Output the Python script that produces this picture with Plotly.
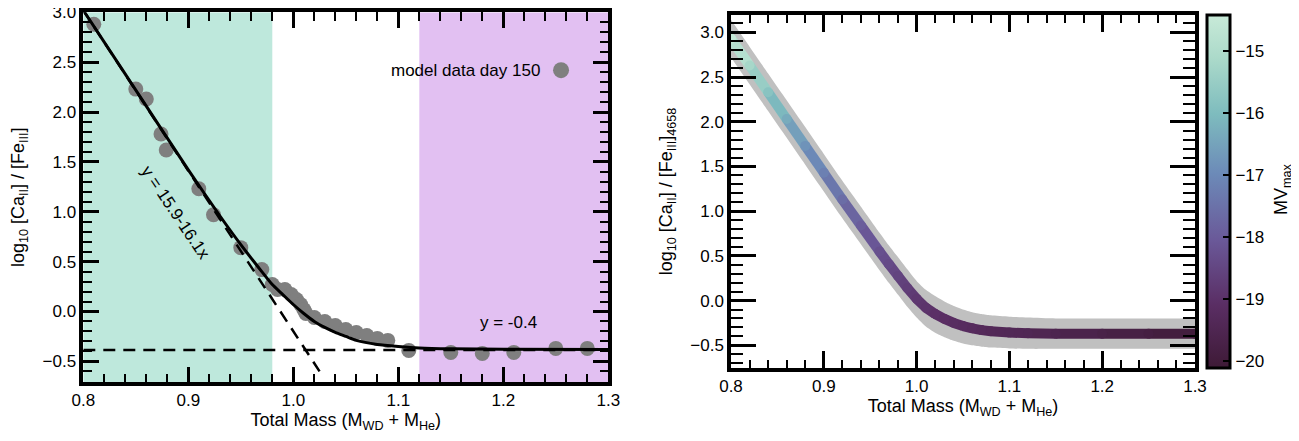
import plotly.graph_objects as go

# ---------------- data ----------------
# left panel: model points
mass_pts = [0.81, 0.85, 0.86, 0.874, 0.879, 0.91, 0.924, 0.95, 0.97, 0.98, 0.985, 0.992,
            0.998, 1.003, 1.007, 1.01, 1.012, 1.02, 1.03, 1.04, 1.05, 1.06, 1.07, 1.08,
            1.09, 1.11, 1.15, 1.18, 1.21, 1.25, 1.28]
ratio_pts = [2.88, 2.23, 2.13, 1.78, 1.62, 1.23, 0.97, 0.64, 0.42, 0.27, 0.22, 0.22,
             0.17, 0.12, 0.07, 0.02, -0.02, -0.06, -0.10, -0.14, -0.18, -0.21, -0.24, -0.27,
             -0.29, -0.39, -0.41, -0.42, -0.41, -0.37, -0.37]

# left panel: smooth fit curve
fit_x = [0.80, 0.85, 0.90, 0.93, 0.95, 0.97, 0.98, 0.99, 1.00, 1.01, 1.02, 1.03, 1.04,
         1.05, 1.06, 1.08, 1.10, 1.12, 1.15, 1.20, 1.30]
fit_y = [3.02, 2.22, 1.42, 0.96, 0.67, 0.40, 0.27, 0.17, 0.07, -0.02, -0.10, -0.16, -0.21,
         -0.25, -0.29, -0.33, -0.35, -0.365, -0.374, -0.379, -0.38]

# left panel: asymptotes (y = 15.9-16.1x and y = -0.4)
steep_x = [0.80, 1.025]
steep_y = [3.02, -0.60]
flat_x = [0.80, 1.30]
flat_y = [-0.385, -0.385]

# left panel: shaded mass regions
region_green = [0.80, 0.98]
region_purple = [1.12, 1.30]

# left panel: legend key position
legend_key = [1.255, 2.42]

# right panel: relation with uncertainty band, coloured by MV_max
rel_x = [0.80, 0.82, 0.84, 0.86, 0.88, 0.90, 0.92, 0.94, 0.96, 0.97, 0.98, 0.99, 1.00,
         1.01, 1.02, 1.03, 1.04, 1.05, 1.06, 1.07, 1.08, 1.10, 1.12, 1.15, 1.20, 1.25, 1.30]
rel_y = [2.93, 2.63, 2.33, 2.03, 1.73, 1.43, 1.13, 0.84, 0.55, 0.41, 0.275, 0.14, 0.02,
         -0.08, -0.15, -0.205, -0.25, -0.285, -0.31, -0.33, -0.343, -0.358, -0.365, -0.37,
         -0.37, -0.37, -0.37]
rel_hi = [3.14, 2.84, 2.54, 2.24, 1.94, 1.64, 1.34, 1.05, 0.76, 0.62, 0.485, 0.35, 0.22,
          0.12, 0.05, -0.01, -0.06, -0.10, -0.13, -0.15, -0.165, -0.18, -0.19, -0.20,
          -0.20, -0.20, -0.20]
rel_lo = [2.72, 2.42, 2.12, 1.82, 1.52, 1.22, 0.92, 0.63, 0.34, 0.20, 0.065, -0.07, -0.19,
          -0.29, -0.36, -0.41, -0.45, -0.48, -0.50, -0.515, -0.525, -0.535, -0.54, -0.54,
          -0.54, -0.54, -0.54]
rel_mv = [-14.55, -15.2, -15.8, -16.35, -16.8, -17.2, -17.6, -17.95, -18.25, -18.4, -18.55,
          -18.7, -18.85, -18.95, -19.05, -19.1, -19.15, -19.2, -19.25, -19.3, -19.35, -19.4,
          -19.45, -19.55, -19.7, -19.85, -20.0]

# axis ranges
mass_range = [0.8, 1.3]
left_y_range = [-0.71, 3.0]
right_y_range = [-0.754, 3.194]
MV_MIN, MV_MAX = -20.11, -14.42

# ---------------- layout helpers ----------------
OFF = 8                      # page body margin of the html page
W, H = 1299 - OFF, 441 - OFF


def px_x(p):
    return (p - OFF) / W


def px_y(p):
    return 1 - (p - OFF) / H


FONT = "Arial"
TICK_SIZE = 17
colorscale = [
    [0.00, "rgb(62,26,54)"],
    [0.18, "rgb(90,46,100)"],
    [0.36, "rgb(106,88,152)"],
    [0.55, "rgb(108,138,184)"],
    [0.72, "rgb(126,188,190)"],
    [0.88, "rgb(172,218,202)"],
    [1.00, "rgb(200,234,216)"],
]


def rgb_parts(s):
    return [int(v) for v in s[4:-1].split(",")]


def color_at(v):
    t = (v - MV_MIN) / (MV_MAX - MV_MIN)
    t = max(0.0, min(1.0, t))
    for (p0, c0), (p1, c1) in zip(colorscale[:-1], colorscale[1:]):
        if p0 <= t <= p1:
            f = (t - p0) / (p1 - p0) if p1 > p0 else 0
            a, b = rgb_parts(c0), rgb_parts(c1)
            return "rgb(%d,%d,%d)" % tuple(round(a[i] + f * (b[i] - a[i])) for i in range(3))
    return colorscale[-1][1]


fig = go.Figure()

# ---------- left panel ----------
for reg, col in ((region_green, "#bee8dc"), (region_purple, "#e2c0f2")):
    fig.add_trace(go.Scatter(
        x=[reg[0], reg[0], reg[1], reg[1]],
        y=[left_y_range[0], left_y_range[1], left_y_range[1], left_y_range[0]],
        mode="lines", fill="toself", fillcolor=col, line=dict(width=0, color=col),
        xaxis="x", yaxis="y", showlegend=False))
fig.add_trace(go.Scatter(x=mass_pts, y=ratio_pts, mode="markers", xaxis="x", yaxis="y",
                         marker=dict(size=15, color="#7f7f7f", line=dict(width=0)),
                         showlegend=False))
fig.add_trace(go.Scatter(x=steep_x, y=steep_y, mode="lines", xaxis="x", yaxis="y",
                         line=dict(color="black", width=2.5, dash="12px,8px"),
                         showlegend=False))
fig.add_trace(go.Scatter(x=flat_x, y=flat_y, mode="lines", xaxis="x", yaxis="y",
                         line=dict(color="black", width=2.5, dash="12px,8px"),
                         showlegend=False))
fig.add_trace(go.Scatter(x=fit_x, y=fit_y, mode="lines", xaxis="x", yaxis="y",
                         line=dict(color="black", width=3, shape="spline", smoothing=0.6),
                         showlegend=False))
fig.add_trace(go.Scatter(x=[legend_key[0]], y=[legend_key[1]], mode="markers",
                         xaxis="x", yaxis="y",
                         marker=dict(size=16, color="#7f7f7f", line=dict(width=0)),
                         showlegend=False))

# ---------- right panel ----------
fig.add_trace(go.Scatter(x=rel_x, y=rel_lo, mode="lines", xaxis="x2", yaxis="y2",
                         line=dict(width=0, color="#c0c0c0", shape="spline", smoothing=0.6),
                         showlegend=False))
fig.add_trace(go.Scatter(x=rel_x, y=rel_hi, mode="lines", xaxis="x2", yaxis="y2",
                         fill="tonexty", fillcolor="#c0c0c0",
                         line=dict(width=0, color="#c0c0c0", shape="spline", smoothing=0.6),
                         showlegend=False))
for i in range(len(rel_x) - 1):
    fig.add_trace(go.Scatter(x=rel_x[i:i + 2], y=rel_y[i:i + 2], mode="lines",
                             xaxis="x2", yaxis="y2",
                             line=dict(width=10, color=color_at((rel_mv[i] + rel_mv[i + 1]) / 2)),
                             showlegend=False))
fig.add_trace(go.Scatter(
    x=rel_x, y=rel_y, mode="markers", xaxis="x2", yaxis="y2",
    marker=dict(size=10, color=rel_mv, colorscale=colorscale, cmin=MV_MIN, cmax=MV_MAX,
                line=dict(width=0), showscale=True,
                colorbar=dict(x=px_x(1207), xanchor="left", xpad=0, ypad=0,
                              y=(px_y(368) + px_y(15)) / 2, yanchor="middle",
                              len=(368 - 15) / H, lenmode="fraction",
                              thickness=23, outlinewidth=3, outlinecolor="black",
                              dtick=1, ticks="inside", ticklen=8, tickwidth=2,
                              tickcolor="black",
                              tickfont=dict(family=FONT, size=TICK_SIZE, color="black"))),
    showlegend=False))

xtitle = dict(text="Total Mass (M<sub>WD</sub> + M<sub>He</sub>)",
              font=dict(family=FONT, size=18, color="black"), standoff=4)


def ax(**kw):
    base = dict(showline=True, linecolor="black", linewidth=3.5, mirror="ticks",
                ticks="inside", tickcolor="black", tickwidth=2.5, automargin=False,
                gridcolor="rgba(0,0,0,0)", zeroline=False, tickformat=".1f",
                ticklabeloverflow="allow",
                tickfont=dict(family=FONT, size=TICK_SIZE, color="black"))
    base.update(kw)
    return base


fig.update_layout(
    width=W, height=H, margin=dict(l=0, r=0, t=0, b=0),
    plot_bgcolor="white",
    xaxis=ax(domain=[px_x(83.3), px_x(608.3)], range=mass_range, dtick=0.1, ticklen=16,
             minor=dict(ticks="inside", ticklen=9, tickwidth=2, tickcolor="black", dtick=0.02),
             title=xtitle, anchor="y"),
    yaxis=ax(domain=[px_y(382.3), px_y(12.3)], range=left_y_range, dtick=0.5, ticklen=16,
             minor=dict(ticks="inside", ticklen=9, tickwidth=2, tickcolor="black", dtick=0.1),
             title=dict(text="log<sub>10</sub> [Ca<sub>II</sub>] / [Fe<sub>III</sub>]",
                        font=dict(family=FONT, size=18, color="black"), standoff=16),
             anchor="x"),
    xaxis2=ax(domain=[px_x(731), px_x(1195)], range=mass_range, dtick=0.1, ticklen=17,
              minor=dict(ticks="inside", ticklen=8, tickwidth=2, tickcolor="black", dtick=0.02),
              title=xtitle, anchor="y2"),
    yaxis2=ax(domain=[px_y(368), px_y(15)], range=right_y_range, dtick=0.5, ticklen=25,
              minor=dict(ticks="inside", ticklen=12, tickwidth=2, tickcolor="black", dtick=0.1),
              title=dict(text="log<sub>10</sub> [Ca<sub>II</sub>] / [Fe<sub>III</sub>]<sub>4658</sub>",
                         font=dict(family=FONT, size=18, color="black"), standoff=14),
              anchor="x2"),
    annotations=[
        dict(text="model data day 150", xref="x", yref="y", x=1.237, y=2.42,
             xanchor="right", yanchor="middle", showarrow=False,
             font=dict(family=FONT, size=17, color="black")),
        dict(text="y = 15.9-16.1x", xref="x", yref="y", x=0.8876, y=0.99, textangle=56,
             showarrow=False, font=dict(family=FONT, size=17, color="black")),
        dict(text="y = -0.4", xref="x", yref="y", x=1.205, y=-0.11, showarrow=False,
             font=dict(family=FONT, size=17, color="black")),
        dict(text="MV<sub>max</sub>", xref="paper", yref="paper", x=px_x(1282),
             xanchor="center", yanchor="middle",
             y=px_y(190), textangle=-90, showarrow=False,
             font=dict(family=FONT, size=18, color="black")),
    ],
)

fig.write_html("out.html")
